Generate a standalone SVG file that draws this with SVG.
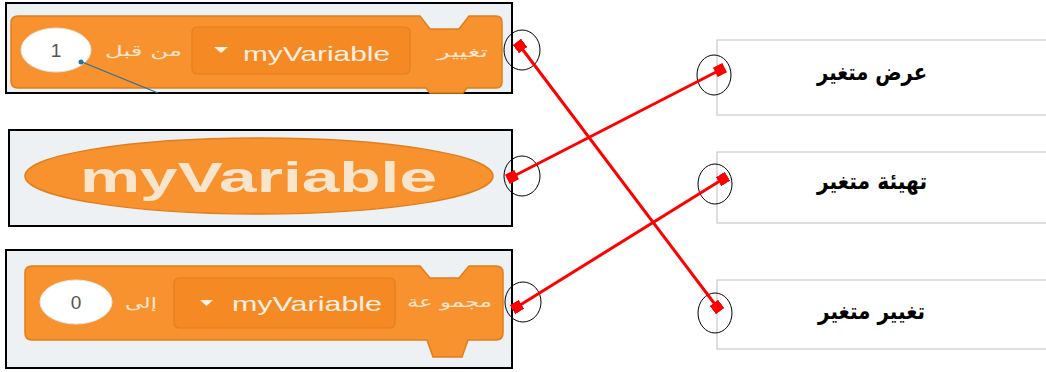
<svg xmlns="http://www.w3.org/2000/svg" width="1046" height="372" viewBox="0 0 1046 372">
<style>
.frame{fill:#eef1f4;stroke:#000;stroke-width:2}
.blk{fill:#f7922e;stroke:#e07d1c;stroke-width:1.5}
.dd{fill:#f58a24;stroke:#e27f20;stroke-width:1.2}
.oval{fill:#fff;stroke:#e6e6e6;stroke-width:1}
.wt{font-family:"Liberation Sans",Arial,sans-serif;fill:#fdf0e2}
.ar{font-family:"DejaVu Sans",sans-serif;fill:#fde6cf;font-size:15px}
.num{font-family:"Liberation Sans",Arial,sans-serif;font-size:19px;fill:#555}
.opt{fill:#fff;stroke:#c8c8c8;stroke-width:1.2}
.lbl{font-family:"DejaVu Sans",sans-serif;font-weight:bold;font-size:23px;fill:#000}
.ring{fill:none;stroke:#000;stroke-width:1}
.wire{stroke:#ff0000;stroke-width:3;fill:none;marker-start:url(#sq);marker-end:url(#sq)}
</style>
<defs>
<marker id="sq" viewBox="0 0 10 10" refX="5" refY="5" markerWidth="3.5" markerHeight="3.5" orient="auto" markerUnits="strokeWidth">
<rect x="0" y="0" width="10" height="10" fill="#ff0000"/>
</marker>
</defs>
<rect width="1046" height="372" fill="#fff"/>

<g id="block-change">
<rect class="frame" x="6" y="3" width="506" height="90"/>
<path class="blk" d="M18,16 H420 L430,29 H459 L469,16 H496 Q502,16 502,22 V82 Q502,88 496,88 H467 L463,93 H430 L426,88 H18 Q11,88 11,81 V23 Q11,16 18,16 Z"/>
<ellipse class="oval" cx="56" cy="50" rx="35" ry="22"/>
<text class="num" x="56" y="57" text-anchor="middle">1</text>
<text class="ar" x="105" y="56" textLength="77" lengthAdjust="spacingAndGlyphs">من قبل</text>
<rect class="dd" x="192" y="27" width="218" height="47" rx="5"/>
<path d="M214,47 h14 l-7,6 z" fill="#fdf2e6"/>
<text class="wt" x="243" y="61" font-size="21" textLength="147" lengthAdjust="spacingAndGlyphs">myVariable</text>
<text class="ar" x="437" y="57" textLength="51" lengthAdjust="spacingAndGlyphs">تغيير</text>
<line x1="82" y1="62" x2="158" y2="93" stroke="#2b6f9a" stroke-width="1.2"/>
<circle cx="81" cy="62" r="2.5" fill="#2b6f9a"/>
</g>

<g id="block-reporter">
<rect class="frame" x="9" y="130" width="503" height="96"/>
<ellipse class="blk" cx="259" cy="176" rx="234" ry="38"/>
<text class="wt" x="80" y="192" font-size="42" font-weight="bold" textLength="357" lengthAdjust="spacingAndGlyphs" style="fill:#f9e4cc">myVariable</text>
</g>

<g id="block-set">
<rect class="frame" x="6" y="250" width="506" height="118"/>
<path class="blk" d="M32,266 H420 L430,278 H459 L469,266 H496 Q503,266 503,273 V333 Q503,340 496,340 H468 L462,357 H433 L427,340 H32 Q25,340 25,333 V273 Q25,266 32,266 Z"/>
<ellipse class="oval" cx="76" cy="302" rx="36" ry="22"/>
<text class="num" x="76" y="309" text-anchor="middle">0</text>
<text class="ar" x="125" y="308" textLength="32" lengthAdjust="spacingAndGlyphs">إلى</text>
<rect class="dd" x="174" y="278" width="221" height="50" rx="5"/>
<path d="M200,300 h13 l-6.5,6 z" fill="#fdf2e6"/>
<text class="wt" x="232" y="311" font-size="21" textLength="150" lengthAdjust="spacingAndGlyphs">myVariable</text>
<text class="ar" x="407" y="307" textLength="85" lengthAdjust="spacingAndGlyphs">مجمو عة</text>
</g>

<g id="opt-show">
<rect class="opt" x="717" y="40" width="340" height="75"/>
<text class="lbl" x="817" y="80" textLength="110" lengthAdjust="spacingAndGlyphs">عرض متغير</text>
</g>
<g id="opt-init">
<rect class="opt" x="717" y="152" width="340" height="71"/>
<text class="lbl" x="817" y="189" textLength="110" lengthAdjust="spacingAndGlyphs">تهيئة متغير</text>
</g>
<g id="opt-change">
<rect class="opt" x="717" y="280" width="340" height="69"/>
<text class="lbl" x="818" y="319" textLength="107" lengthAdjust="spacingAndGlyphs">تغيير متغير</text>
</g>

<g id="connectors">
<ellipse class="ring" cx="522" cy="50" rx="18" ry="20"/>
<ellipse class="ring" cx="522" cy="176" rx="18" ry="20"/>
<ellipse class="ring" cx="523" cy="302" rx="18" ry="20"/>
<ellipse class="ring" cx="714" cy="75" rx="17" ry="20"/>
<ellipse class="ring" cx="715" cy="184" rx="17" ry="20"/>
<ellipse class="ring" cx="715" cy="313" rx="17" ry="20"/>
<line class="wire" x1="520" y1="46" x2="717" y2="307"/>
<line class="wire" x1="512" y1="177" x2="720" y2="70"/>
<line class="wire" x1="517" y1="307" x2="723" y2="179"/>
</g>
</svg>
